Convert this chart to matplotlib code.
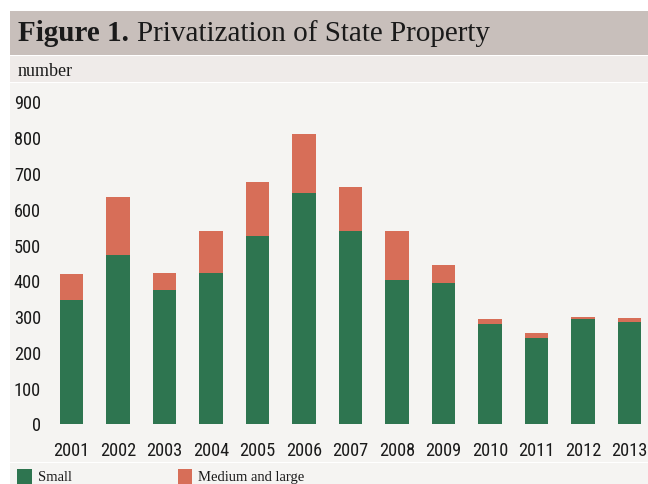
import matplotlib
matplotlib.use("Agg")
import matplotlib.pyplot as plt
from matplotlib.patches import Rectangle

years = ["2001", "2002", "2003", "2004", "2005", "2006", "2007",
         "2008", "2009", "2010", "2011", "2012", "2013"]
small = [344, 470, 372, 422, 523, 643, 537, 400, 394, 277, 240, 293, 285]
medium_large = [75, 164, 50, 115, 151, 165, 123, 139, 50, 16, 12, 6, 11]
yticks = [0, 100, 200, 300, 400, 500, 600, 700, 800, 900]

GREEN = "#2e7550"
ORANGE = "#d76e58"
TITLE_BG = "#c8bfbb"
UNIT_BG = "#efebe9"
PLOT_BG = "#f5f4f2"
TEXT = "#1a1a1a"

W, H = 648, 485
SERIF = ["Liberation Serif", "DejaVu Serif"]
NARROW = ["Roboto Condensed", "DejaVu Sans Condensed", "Liberation Sans Narrow",
          "Liberation Sans"]

fig = plt.figure(figsize=(W / 100, H / 100), dpi=100)
fig.patch.set_facecolor("white")


def band(x0, y0, x1, y1, color, z=-5):
    fig.patches.append(Rectangle((x0 / W, 1 - y1 / H), (x1 - x0) / W, (y1 - y0) / H,
                                 transform=fig.transFigure, facecolor=color,
                                 edgecolor="none", zorder=z))


band(10, 12, W, 55.5, TITLE_BG)
band(10, 57, W, 83, UNIT_BG)
band(10, 84, W, 462.5, PLOT_BG)
band(10, 463.5, W, H, PLOT_BG)

fig.text(18 / W, 1 - 41 / H, "Figure 1.", family=SERIF, fontweight="bold",
         fontsize=21, color=TEXT, va="baseline", ha="left")
fig.text(137 / W, 1 - 41 / H, "Privatization of State Property", family=SERIF,
         fontsize=21, color=TEXT, va="baseline", ha="left")
fig.text(18 / W, 1 - 71 / H, "number", family=SERIF, fontsize=13,
         color=TEXT, va="center", ha="left")

ax = fig.add_axes([44 / W, 1 - 440 / H, (W - 44) / W, (440 - 90) / H])
ax.set_facecolor("none")
x = list(range(len(years)))
ax.bar(x, small, width=0.5, color=GREEN, linewidth=0)
ax.bar(x, medium_large, width=0.5, bottom=small, color=ORANGE, linewidth=0)
ax.set_xlim((44 - 71.5) / 46.5, (W - 71.5) / 46.5)
ax.set_ylim((424.5 - 440) / 0.3578, (424.5 - 90) / 0.3578)
ax.set_xticks(x)
ax.set_xticklabels(years)
ax.set_yticks(yticks)
ax.set_yticklabels([str(v) for v in yticks])
for lab in ax.get_xticklabels() + ax.get_yticklabels():
    lab.set_family(NARROW)
    lab.set_fontsize(13.2)
    lab.set_color(TEXT)
ax.tick_params(axis="x", length=0, pad=1.5)
ax.tick_params(axis="y", length=0, pad=2.2)
for s in ax.spines.values():
    s.set_visible(False)

# legend
for x0, x1, label, color in [(17, 32, "Small", GREEN),
                             (178, 192, "Medium and large", ORANGE)]:
    fig.patches.append(Rectangle((x0 / W, 0), (x1 - x0) / W, (H - 470) / H,
                                 transform=fig.transFigure, facecolor=color,
                                 edgecolor="none", zorder=2))
    fig.text((x1 + 6) / W, 1 - 481 / H, label, family=SERIF, fontsize=10.5,
             color=TEXT, va="baseline", ha="left")

fig.savefig("out.png", dpi=100)
